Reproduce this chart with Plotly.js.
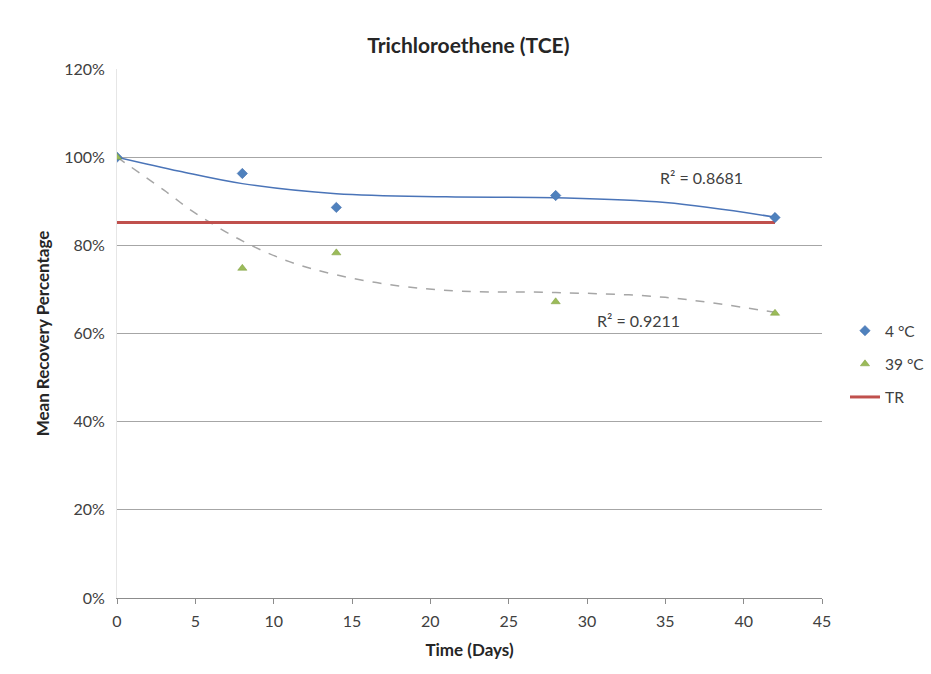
<!DOCTYPE html>
<html>
<head>
<meta charset="utf-8">
<script src="https://cdn.plot.ly/plotly-3.0.1.min.js"></script>
<style>html,body{margin:0;padding:0;background:#fff;}#chart{width:931px;height:674px;}</style>
</head>
<body>
<div id="chart"></div>
<script>
// Data
const days = [0, 8, 14, 28, 42];
const rec4C = [100, 96.3, 88.6, 91.3, 86.3];
const rec39C = [100, 74.8, 78.3, 67.2, 64.6];
const trDays = [0, 42];
const trValues = [85.2, 85.2];
// Trendline curves
const trend4Days = [0, 4, 8, 14, 21, 28, 35, 42];
const trend4 = [100, 96.8, 94.0, 91.7, 91.0, 90.8, 89.7, 86.4];
const trend39Days = [0, 3, 5, 8, 11, 14, 18, 22, 28, 35, 42];
const trend39 = [100, 92.5, 87.3, 81.0, 76.3, 73.3, 70.8, 69.6, 69.3, 68.2, 64.8];
const r2Labels = ["R² = 0.8681", "R² = 0.9211"];
const seriesNames = ["4 °C", "39 °C", "TR"];
const xTicks = [0, 5, 10, 15, 20, 25, 30, 35, 40, 45];
const yTicks = [0, 20, 40, 60, 80, 100, 120];

const FONT = "Lato, 'Open Sans', sans-serif";

const traces = [
  {x: trend4Days, y: trend4, mode: 'lines', type: 'scatter', showlegend: false, hoverinfo: 'skip',
   line: {color: '#4A74B8', width: 1.5, shape: 'spline'}},
  {x: trend39Days, y: trend39, mode: 'lines', type: 'scatter', showlegend: false, hoverinfo: 'skip',
   line: {color: '#A6A6A6', width: 1.5, dash: 'dash', shape: 'spline'}},
  {x: trDays, y: trValues, mode: 'lines', type: 'scatter', name: seriesNames[2], legendgroup: 'c', legendrank: 3,
   line: {color: '#C0504D', width: 3}},
  {x: days, y: rec4C, mode: 'markers', type: 'scatter', name: seriesNames[0], legendgroup: 'a', legendrank: 1,
   marker: {symbol: 'diamond', size: 8, color: '#4F81BD', line: {color: '#3A66A8', width: 0.5}}},
  {x: days, y: rec39C, mode: 'markers', type: 'scatter', name: seriesNames[1], legendgroup: 'b', legendrank: 2,
   marker: {symbol: 'triangle-up', size: 8, color: '#9BBB59', line: {color: '#7A9A3A', width: 0.5}}}
];

const layout = {
  width: 931, height: 674,
  paper_bgcolor: '#ffffff', plot_bgcolor: '#ffffff',
  font: {family: FONT, color: '#404040', size: 16},
  margin: {l: 117, r: 109, t: 69, b: 76},
  title: {text: '<b>Trichloroethene (TCE)</b>', font: {family: FONT, size: 21, color: '#262626'},
          x: 0.503, xanchor: 'center', y: 0.932, yanchor: 'middle'},
  xaxis: {
    range: [0, 45], tickvals: xTicks, ticktext: xTicks.map(String),
    showgrid: false, zeroline: false, showline: true, linecolor: '#8C8C8C', linewidth: 1,
    ticks: 'outside', ticklen: 5, tickcolor: '#8C8C8C', ticklabelstandoff: 4,
    tickfont: {family: FONT, size: 16, color: '#404040'},
    title: {text: '<b>Time (Days)</b>', font: {family: FONT, size: 17, color: '#262626'}, standoff: 14}
  },
  yaxis: {
    range: [0, 120], tickvals: yTicks, ticktext: yTicks.map(v => v + '%'),
    showgrid: true, gridcolor: '#A6A6A6', gridwidth: 1, zeroline: false,
    showline: true, linecolor: '#E6E6E6', linewidth: 1, ticks: '', ticklabelstandoff: 8,
    tickfont: {family: FONT, size: 16, color: '#404040'},
    title: {text: '<b>Mean Recovery Percentage</b>', font: {family: FONT, size: 17, color: '#262626'}, standoff: 10}
  },
  legend: {
    xref: 'container', yref: 'container',
    x: 0.9076, xanchor: 'left', y: 0.534, yanchor: 'top',
    font: {family: FONT, size: 15.5, color: '#404040'},
    traceorder: 'grouped', tracegroupgap: 10, itemwidth: 30,
    bgcolor: 'rgba(0,0,0,0)'
  },
  annotations: [
    {x: 37.3, y: 95.3, xref: 'x', yref: 'y', text: r2Labels[0], showarrow: false,
     font: {family: FONT, size: 16, color: '#404040'}},
    {x: 33.3, y: 63.0, xref: 'x', yref: 'y', text: r2Labels[1], showarrow: false,
     font: {family: FONT, size: 16, color: '#404040'}}
  ]
};

Plotly.newPlot('chart', traces, layout, {displayModeBar: false, staticPlot: true});
</script>
</body>
</html>
